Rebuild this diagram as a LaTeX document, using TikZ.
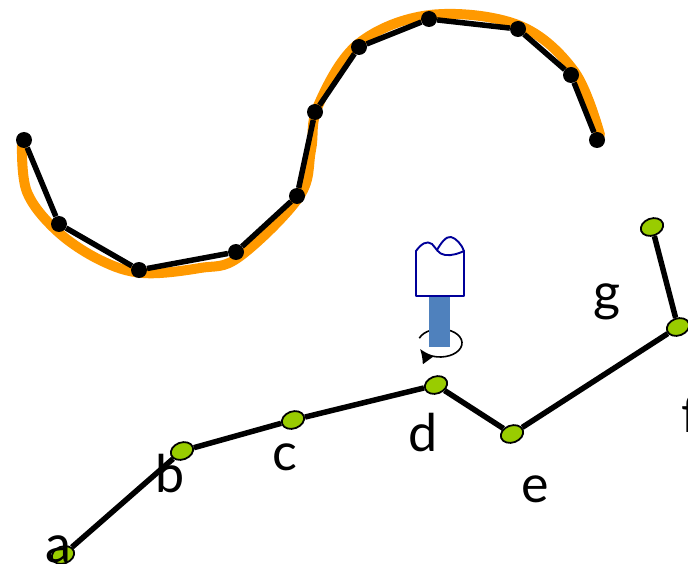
\documentclass[tikz,border=0pt]{standalone}
\usepackage{fontspec}
\setmainfont{Lato}
\usetikzlibrary{shapes.geometric,arrows.meta,calc}
\definecolor{curveorange}{HTML}{FF9900}
\definecolor{jointgreen}{HTML}{99CC00}
\definecolor{toolblue}{HTML}{4F81BD}
\definecolor{toothblue}{HTML}{000099}
\tikzset{
  dot/.style={circle,fill=black,inner sep=0pt,minimum size=16pt},
  joint/.style={ellipse,draw=black,line width=1.8pt,fill=jointgreen,inner sep=0pt,
                minimum width=23pt,minimum height=17pt,rotate=20},
  link/.style={line width=5.5pt,black},
  lbl/.style={anchor=base,inner sep=0pt,font=\fontsize{52}{62}\selectfont},
}
\begin{document}
\begin{tikzpicture}[x=1pt,y=-1pt]
\useasboundingbox (0,0) rectangle (688,564);

% smooth target curve
\draw[curveorange,line width=10pt,line cap=round]
  plot[smooth,tension=0.6] coordinates {(22,145) (27,192) (57,231) (100,260) (143,273)
  (200,268) (239,257) (299,197) (311,150) (318,106) (358,44) (430,15) (518,25) (574,71) (600,135)};

% sampled points along the curve
\foreach \n/\x/\y in {1/24/140,2/59/224,3/139/270,4/236/252,5/297/196,6/315/112,
                      7/359/47,8/429/19,9/518/29,10/571/75,11/597/140}
  \node[dot] (p\n) at (\x,\y) {};
\draw[link] (p1) -- (p2) -- (p3) -- (p4) -- (p5) -- (p6) -- (p7) -- (p8) -- (p9) -- (p10) -- (p11);

% kinematic chain
\node[joint] (A) at (63,555) {};
\node[joint] (B) at (182,451) {};
\node[joint] (C) at (293,420) {};
\node[joint] (D) at (436,385) {};
\node[joint] (E) at (512,434) {};
\node[joint] (F) at (678,327) {};
\node[joint] (G) at (652,227) {};
\draw[link] (A) -- (B) -- (C) -- (D) -- (E) -- (F) -- (G);

% joint labels
\node[lbl] (la) at (58,562) {a};
\node[lbl] (lb) at (170,492) {b};
\node[lbl] (lc) at (285,470) {c};
\node[lbl] (ld) at (423,451) {d};
\node[lbl] (le) at (535,502) {e};
\node[lbl,anchor=base west] (lf) at (681,432) {f};
\node[lbl] (lg) at (607,310) {g};

% rotation of the tool
\coordinate (rot) at (440,343);
\draw[line width=1.6pt,-{Latex[length=14pt,width=14pt]}]
  ($(rot)+(160:22pt and 14pt)$) arc[start angle=160,end angle=-155,x radius=22pt,y radius=14pt];
\node[rectangle,fill=toolblue,inner sep=0pt,minimum width=21pt,minimum height=51pt] (shaft) at (439.5,321.5) {};

% tooth-shaped tool head
\draw[toothblue,line width=1.9pt,line join=round]
  (416,296) -- (416,251)
  .. controls (421,244) and (427,240) .. (432,244)
  .. controls (436,248) and (438,254) .. (445,255)
  .. controls (452,256) and (460,253) .. (464,251)
  -- (464,296) -- cycle;
\draw[toothblue,line width=1.9pt,line join=round]
  (437,250) .. controls (441,243) and (446,236) .. (451,237)
  .. controls (456,238) and (462,245) .. (464,251);
\end{tikzpicture}
\end{document}
